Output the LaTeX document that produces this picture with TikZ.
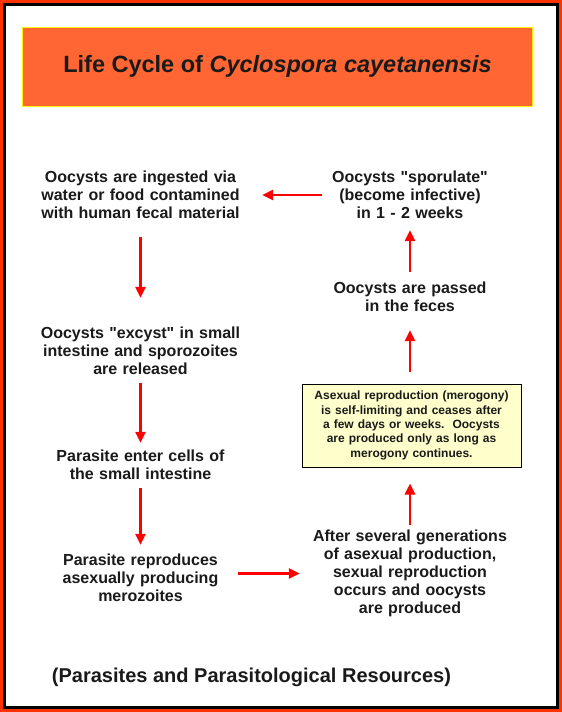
\documentclass[tikz,border=0pt]{standalone}
\usepackage{fontspec}
\setmainfont{Liberation Sans}[Ligatures=TeXOff]
\usetikzlibrary{arrows.meta}
\definecolor{frameRed}{HTML}{FF3300}
\definecolor{titleOrange}{HTML}{FF6633}
\definecolor{noteYellow}{HTML}{FFFFCC}
\definecolor{txt}{HTML}{1A1A1A}
\definecolor{arrowRed}{HTML}{FF0000}
\begin{document}
\begin{tikzpicture}[x=1pt,y=-1pt,
  lbl/.style={inner sep=0pt, align=center, text=txt, font=\bfseries\fontsize{16}{18}\selectfont},
  arr/.style={draw=arrowRed, line width=2.6pt, -{Triangle[length=11pt,width=10pt]}},
]
\useasboundingbox (0,0) rectangle (562,712);
\fill[white] (0,0) rectangle (562,712);
\draw[frameRed, line width=3pt] (1.5,1.5) rectangle (560.5,710.5);
\draw[black, line width=3pt] (4.5,4.5) rectangle (557.5,707.5);

\node[draw=yellow, fill=titleOrange, line width=1pt, minimum width=510pt, minimum height=78.5pt, inner sep=0pt,
      text=txt, font=\bfseries\fontsize{23.5}{28}\selectfont] (title) at (277.5,66.75)
  {Life Cycle of \textit{Cyclospora cayetanensis}};

\node[lbl, text width=200pt, minimum height=60pt] (n1) at (140.5,195)
  {Oocysts are ingested via\\water or food contamined\\with human fecal material};
\node[lbl, text width=210pt, minimum height=60pt] (n2) at (140.5,350.5)
  {Oocysts "excyst" in small\\intestine and sporozoites\\are released};
\node[lbl, text width=200pt, minimum height=42pt] (n3) at (140.5,465)
  {Parasite enter cells of\\the small intestine};
\node[lbl, text width=180pt, minimum height=60pt] (n4) at (140.5,577.5)
  {Parasite reproduces\\asexually producing\\merozoites};
\node[lbl, text width=200pt, minimum height=96pt] (n5) at (410,573.5)
  {After several generations\\of asexual production,\\sexual reproduction\\occurs and oocysts\\are produced};
\node[draw=black, fill=noteYellow, line width=1pt, minimum width=219pt, minimum height=83pt, inner sep=0pt,
      text width=215pt, align=center, text=txt, font=\bfseries\fontsize{12}{14.3}\selectfont] (n8) at (411.5,425.5)
  {Asexual reproduction (merogony)\\is self-limiting and ceases after\\a few days or weeks.\ \ Oocysts\\are produced only as long as\\merogony continues.};
\node[lbl, text width=170pt, minimum height=42pt] (n7) at (410,297)
  {Oocysts are passed\\in the feces};
\node[lbl, text width=170pt, minimum height=60pt] (n6) at (410,195)
  {Oocysts "sporulate"\\(become infective)\\in 1 - 2 weeks};

\node[anchor=base, inner sep=0pt, text=txt, font=\bfseries\fontsize{20}{24}\selectfont] (src) at (251.5,682)
  {(Parasites and Parasitological Resources)};

\draw[arr, shorten <=2.5pt, shorten >=21.5pt] (n6.west) -- (n1.east);
\draw[arr, shorten <=12pt, shorten >=22.5pt] (n1.south) -- (n2.north);
\draw[arr, shorten <=2.5pt, shorten >=1pt] (n2.south) -- (n3.north);
\draw[arr, shorten <=2pt, shorten >=2.5pt] (n3.south) -- (n4.north);
\draw[arr, shorten <=7.5pt, shorten >=10pt] (n4.east |- n5.west) -- (n5.west);
\draw[arr, shorten <=0pt, shorten >=16pt] (n5.north) -- (n5.north |- n8.south);
\draw[arr, shorten <=12pt, shorten >=12pt] (n8.north -| n7) -- (n7.south);
\draw[arr, shorten <=4pt, shorten >=5pt] (n7.north) -- (n6.south);
\end{tikzpicture}
\end{document}
